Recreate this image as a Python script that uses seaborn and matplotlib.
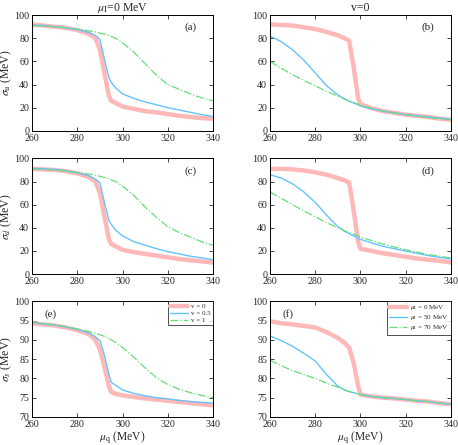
import numpy as np
import pandas as pd
import matplotlib
matplotlib.use("Agg")
import matplotlib.pyplot as plt
import seaborn as sns

sns.set_style("ticks")
plt.rcParams["font.family"] = ["Liberation Serif", "DejaVu Serif"]
plt.rcParams["mathtext.fontset"] = "stix"
plt.rcParams["xtick.direction"] = "in"
plt.rcParams["ytick.direction"] = "in"

# x grids (MeV)
mu_q_left = [260, 265, 270, 275, 280, 285, 288, 290, 292, 294, 295, 297, 300, 305, 310, 315, 320, 325, 330, 335, 340]
mu_q_right = [260, 265, 270, 275, 280, 285, 290, 293, 295, 297, 299, 300, 305, 310, 315, 320, 325, 330, 335, 340]

# left column: mu_I = 0, v = 0 / 0.5 / 1
su_v0 = [92, 91, 90, 89, 87, 84, 80, 70, 50, 30, 26, 24, 21, 19, 17, 16, 14.5, 13, 12, 11, 10.5]
su_v05 = [91.5, 91, 90, 89, 87.5, 85, 82.5, 79, 62, 46, 42, 37, 32, 28, 25, 22.5, 20, 18, 16, 14, 12.5]
su_v1 = [91, 90.5, 90, 89, 88, 86.5, 85.5, 84.5, 83.5, 82.5, 81.5, 80, 76, 68, 58, 48, 40, 36, 32, 28.5, 26]

sd_v0 = [91, 90.5, 90, 89, 87, 84, 80, 70, 50, 30, 26, 24, 21, 19, 17.5, 16, 14.5, 13, 12, 11, 10]
sd_v05 = [91.5, 91, 90.5, 89.5, 87.5, 85, 82, 79, 62, 46, 43, 38, 33, 28, 25, 22, 19.5, 17.5, 15.5, 14, 12.5]
sd_v1 = [91, 90.5, 90, 89, 88, 86.5, 85.5, 84.5, 83.5, 82.5, 81.5, 80, 76, 68, 58, 49, 41, 36, 32, 28, 25]

ss_v0 = [94.3, 94, 93.7, 93.2, 92.5, 91.5, 90, 87.5, 83, 78, 76.5, 76, 75.6, 75.2, 74.8, 74.5, 74.2, 73.9, 73.6, 73.3, 73]
ss_v05 = [94.5, 94.1, 93.8, 93.3, 92.7, 91.8, 90.8, 89.8, 86, 81, 79, 78.2, 77, 76.1, 75.5, 75, 74.7, 74.3, 74, 73.8, 73.6]
ss_v1 = [94.6, 94.2, 93.9, 93.4, 92.8, 92.2, 91.7, 91.3, 90.9, 90.4, 90, 89.3, 88, 85.5, 82.7, 80.2, 78.4, 77.2, 76.3, 75.6, 75]

# right column: v = 0, mu_I = 0 / 50 / 70 MeV
su_i0 = [92, 91.5, 91, 89.5, 88, 85.5, 82.5, 80, 78, 55, 28, 23, 19.5, 17, 15.5, 14, 13, 12, 10.5, 9.5]
su_i50 = [82, 77, 70, 61, 50, 39, 31, 27.5, 25.5, 24, 22.5, 21.5, 19, 17, 15.5, 14, 13, 12, 11, 10]
su_i70 = [60, 54, 48.5, 43.5, 39, 34, 30, 27.5, 26, 24.5, 23, 22, 19.5, 17, 15.5, 14, 12.5, 11.5, 10.5, 9.5]

sd_i0 = [91, 91, 90.5, 89.5, 88, 86, 83, 81, 79, 55, 28, 22, 20, 18, 16.5, 15, 13.5, 12.5, 11.5, 10]
sd_i50 = [86, 83, 78, 71, 62, 51, 41, 37, 35, 33, 31, 30, 27, 24, 22, 20, 18, 16, 14.5, 13]
sd_i70 = [71, 65.5, 60, 54.5, 49.5, 44.5, 40, 37.5, 36, 34.5, 33, 32, 29, 26, 23.5, 21, 19, 17, 15.5, 14]

ss_i0 = [94.8, 94.3, 94, 93.6, 93.2, 92, 90.5, 89.2, 88, 84, 78, 75.8, 75.3, 75, 74.8, 74.5, 74.2, 74, 73.6, 73.3]
ss_i50 = [91, 89.8, 88.3, 86.5, 84.5, 81, 78, 77, 76.6, 76.3, 76, 75.8, 75.3, 75, 74.8, 74.5, 74.2, 74, 73.6, 73.3]
ss_i70 = [84.7, 83.3, 82, 81, 80, 78.8, 77.7, 77, 76.6, 76.3, 76, 75.8, 75.3, 75, 74.8, 74.5, 74.2, 74, 73.6, 73.3]

v_labels = ["v = 0", "v = 0.5", "v = 1"]
i_labels = [r"$\mu_{\rm I}$ = 0 MeV", r"$\mu_{\rm I}$ = 50 MeV", r"$\mu_{\rm I}$ = 70 MeV"]

colors = ["#ffb8b8", "#66c2ff", "#66dd77"]
widths = [3.2, 1.0, 0.9]
styles = ["-", "-", "-."]

fig = plt.figure(figsize=(4.58, 4.45), dpi=100)
lefts = [0.07, 0.5895]
bottoms = [0.706, 0.384, 0.063]
w, h = 0.395, 0.26

panels = [
    (0, 0, mu_q_left, [su_v0, su_v05, su_v1], v_labels, "(a)", r"$\sigma_{\rm u}$ (MeV)"),
    (0, 1, mu_q_right, [su_i0, su_i50, su_i70], i_labels, "(b)", None),
    (1, 0, mu_q_left, [sd_v0, sd_v05, sd_v1], v_labels, "(c)", r"$\sigma_{d}$ (MeV)"),
    (1, 1, mu_q_right, [sd_i0, sd_i50, sd_i70], i_labels, "(d)", None),
    (2, 0, mu_q_left, [ss_v0, ss_v05, ss_v1], v_labels, "(e)", r"$\sigma_{s}$ (MeV)"),
    (2, 1, mu_q_right, [ss_i0, ss_i50, ss_i70], i_labels, "(f)", None),
]

for row, col, xs, series, labels, tag, ylab in panels:
    ax = fig.add_axes([lefts[col], bottoms[row], w, h])
    for ys, lab, c, lw, ls in zip(series, labels, colors, widths, styles):
        df = pd.DataFrame({"mu_q": xs, "sigma": ys})
        sns.lineplot(data=df, x="mu_q", y="sigma", ax=ax, color=c, lw=lw,
                     linestyle=ls, label=lab, legend=False)
    ax.set_xlim(260, 340)
    ax.set_xticks([260, 280, 300, 320, 340])
    if row < 2:
        ax.set_ylim(0, 100)
        ax.set_yticks([0, 20, 40, 60, 80, 100])
    else:
        ax.set_ylim(70, 100)
        ax.set_yticks([70, 75, 80, 85, 90, 95, 100])
    ax.tick_params(labelsize=7.2, length=3, width=0.6, top=True, right=True, pad=2)
    for s in ax.spines.values():
        s.set_linewidth(0.7)
        s.set_color("black")
    ax.set_ylabel(ylab if ylab else "", fontsize=8.5)
    ax.yaxis.set_label_coords(-0.098, 0.5)
    if row == 2:
        ax.set_xlabel(r"$\mu_{\rm q}$ (MeV)", fontsize=8.3)
        ax.xaxis.set_label_coords(0.5, -0.105)
        ax.text(0.07, 0.87, tag, transform=ax.transAxes, fontsize=8)
        leg = ax.legend(loc="upper right", fontsize=5, frameon=True, fancybox=False,
                        edgecolor="black", handlelength=2.6, borderpad=0.3,
                        labelspacing=0.15, borderaxespad=0.0, handletextpad=0.5)
        leg.get_frame().set_linewidth(0.6)
    else:
        ax.set_xlabel("")
        ax.text(0.84, 0.87, tag, transform=ax.transAxes, fontsize=8)
    if row == 0:
        title = r"$\mu_{\rm I}$=0 MeV" if col == 0 else "v=0"
        ax.set_title(title, fontsize=8.5, pad=3)

plt.savefig("out.png", dpi=100)
plt.close()
